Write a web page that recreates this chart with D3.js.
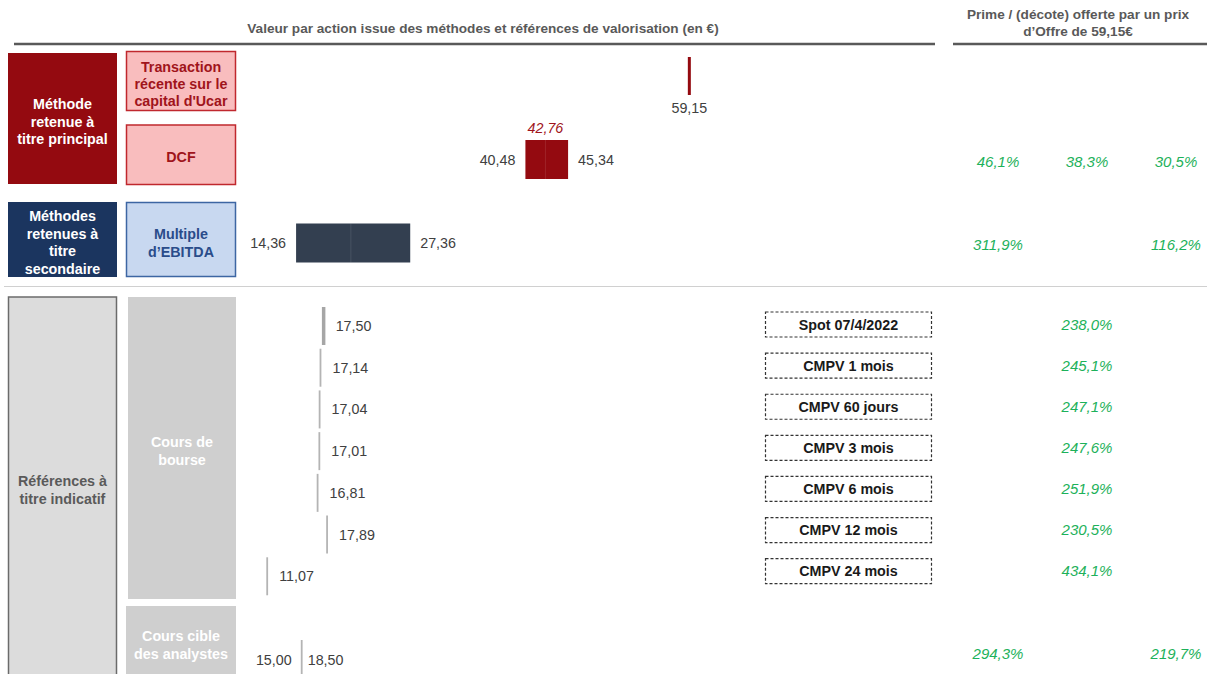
<!DOCTYPE html>
<html>
<head>
<meta charset="utf-8">
<script src="https://cdn.jsdelivr.net/npm/d3@7"></script>
<style>
  body { margin: 0; background: #fff; }
  svg { font-family: "Liberation Sans", Arial, sans-serif; }
</style>
</head>
<body>
<div id="chart"></div>
<script>
/* Data */
const offerPrice = 59.15;

const methodLabels = ["Transaction récente sur le capital d'Ucar", "DCF", "Multiple d’EBITDA"];
const methodLow = [59.15, 40.48, 14.36];
const methodMid = [null, 42.76, 20.6];
const methodHigh = [59.15, 45.34, 27.36];
const methodLowText = [null, "40,48", "14,36"];
const methodMidText = ["59,15", "42,76", null];
const methodHighText = [null, "45,34", "27,36"];
const methodPremium = [["", "", ""], ["46,1%", "38,3%", "30,5%"], ["311,9%", "", "116,2%"]];

const bourseLabels = ["Spot 07/4/2022", "CMPV 1 mois", "CMPV 60 jours", "CMPV 3 mois", "CMPV 6 mois", "CMPV 12 mois", "CMPV 24 mois"];
const bourseValues = [17.50, 17.14, 17.04, 17.01, 16.81, 17.89, 11.07];
const bourseText = ["17,50", "17,14", "17,04", "17,01", "16,81", "17,89", "11,07"];
const boursePremium = ["238,0%", "245,1%", "247,1%", "247,6%", "251,9%", "230,5%", "434,1%"];

const analystLow = 15.00;
const analystHigh = 18.50;
const analystText = ["15,00", "18,50"];
const analystPremium = ["294,3%", "", "219,7%"];

/* Layout */
const W = 1207, H = 674;
const DARKRED = "#940A10", PINK = "#F9BDBE", PINKSTROKE = "#C0282E";
const NAVY = "#1B355F", LIGHTBLUE = "#C8D8F0", BLUESTROKE = "#3D66A3";
const SLATE = "#333F50", GREEN = "#1DB15A", LABEL = "#404040";
const NUM = "14.3px", PCT = "15px", BOX = "14.3px";

const svg = d3.select("#chart").append("svg")
  .attr("width", W).attr("height", H);

/* Scales */
const x = d3.scaleLinear().domain([0, 60]).range([170, 170 + 60 * 8.78]);
const yMethod = d3.scalePoint().domain(methodLabels).range([76, 243]);
const yBourse = d3.scaleBand().domain(bourseLabels).range([305, 597]);
const xPremium = d3.scalePoint().domain([0, 1, 2]).range([998, 1176]);

/* Headers */
svg.append("text")
  .attr("x", 483).attr("y", 28).attr("dy", "0.35em")
  .attr("text-anchor", "middle")
  .style("font-size", "13.6px").style("font-weight", "bold").style("fill", "#595959")
  .text("Valeur par action issue des méthodes et références de valorisation (en €)");

svg.append("line").attr("x1", 14).attr("x2", 935).attr("y1", 44).attr("y2", 44)
  .style("stroke", "#595959").style("stroke-width", 2.5);

const hdr = svg.append("text")
  .attr("text-anchor", "middle")
  .style("font-size", "13.6px").style("font-weight", "bold").style("fill", "#595959");
hdr.append("tspan").attr("x", 1078).attr("y", 19).text("Prime / (décote) offerte par un prix");
hdr.append("tspan").attr("x", 1078).attr("y", 36).text("d’Offre de 59,15€");

svg.append("line").attr("x1", 953).attr("x2", 1207).attr("y1", 44).attr("y2", 44)
  .style("stroke", "#595959").style("stroke-width", 2.5);

svg.append("line").attr("x1", 4).attr("x2", 1207).attr("y1", 286.5).attr("y2", 286.5)
  .style("stroke", "#d0d0d0").style("stroke-width", 1.2);

/* Left boxes */
function box(x0, y0, w, h, fill, stroke, lines, color, ly, lh) {
  svg.append("rect")
    .attr("x", x0).attr("y", y0).attr("width", w).attr("height", h)
    .style("fill", fill)
    .style("stroke", stroke || "none")
    .style("stroke-width", stroke ? 1.5 : 0);
  const t = svg.append("text")
    .attr("text-anchor", "middle")
    .style("font-size", BOX).style("font-weight", "bold").style("fill", color);
  lines.forEach((l, i) => {
    t.append("tspan").attr("x", x0 + w / 2).attr("y", ly + i * lh).attr("dy", "0.35em").text(l);
  });
}

box(8, 53, 109, 131, DARKRED, null, ["Méthode", "retenue à", "titre principal"], "#fff", 104, 17.5);
box(126.5, 51.5, 109, 59, PINK, PINKSTROKE, ["Transaction", "récente sur le", "capital d'Ucar"], "#A0141B", 67, 17);
box(126.5, 125, 109, 59.5, PINK, PINKSTROKE, ["DCF"], "#A0141B", 157, 17);
box(8, 202, 109, 75, NAVY, null, ["Méthodes", "retenues à", "titre", "secondaire"], "#fff", 216, 17.7);
box(126.5, 202.5, 109, 74, LIGHTBLUE, BLUESTROKE, ["Multiple", "d’EBITDA"], "#2A4C8A", 234, 17.5);
box(8.5, 297, 108, 390, "#DCDCDC", "#6b6b6b", ["Références à", "titre indicatif"], "#5a5a5a", 481, 18);
box(128, 297, 108, 302, "#CFCFCF", null, ["Cours de", "bourse"], "#fff", 442, 18);
box(126, 606, 110, 80, "#CFCFCF", null, ["Cours cible", "des analystes"], "#fff", 636, 18);

/* Main methods */
const methods = methodLabels.map((name, i) => ({
  name, low: methodLow[i], mid: methodMid[i], high: methodHigh[i],
  lowText: methodLowText[i], midText: methodMidText[i], highText: methodHighText[i],
  premium: methodPremium[i]
}));
const barH = 39;
const colors = [DARKRED, DARKRED, SLATE];

const g = svg.append("g").attr("class", "methods");

methods.forEach((d, i) => {
  const yc = yMethod(d.name);
  if (d.low === d.high) {
    g.append("rect")
      .attr("x", x(d.low) - 1.5).attr("y", yc - 19).attr("width", 3).attr("height", 38)
      .style("fill", colors[i]);
    g.append("text").attr("x", x(d.low)).attr("y", yc + 32).attr("dy", "0.35em")
      .attr("text-anchor", "middle").style("font-size", NUM).style("fill", LABEL)
      .text(d.midText);
  } else {
    g.append("rect")
      .attr("x", x(d.low)).attr("y", yc - barH / 2)
      .attr("width", x(d.high) - x(d.low)).attr("height", barH)
      .style("fill", colors[i]);
    g.append("line")
      .attr("x1", x(d.mid)).attr("x2", x(d.mid))
      .attr("y1", yc - barH / 2).attr("y2", yc + barH / 2)
      .style("stroke", "#ffffff").style("stroke-opacity", 0.1).style("stroke-width", 1);
    g.append("text").attr("x", x(d.low) - 10).attr("y", yc).attr("dy", "0.35em")
      .attr("text-anchor", "end").style("font-size", NUM).style("fill", LABEL)
      .text(d.lowText);
    g.append("text").attr("x", x(d.high) + 10).attr("y", yc).attr("dy", "0.35em")
      .attr("text-anchor", "start").style("font-size", NUM).style("fill", LABEL)
      .text(d.highText);
    if (d.midText) {
      g.append("text").attr("x", x(d.mid)).attr("y", yc - 32).attr("dy", "0.35em")
        .attr("text-anchor", "middle")
        .style("font-size", NUM).style("font-style", "italic").style("fill", "#A0141B")
        .text(d.midText);
    }
  }
  d.premium.forEach((p, j) => {
    g.append("text").attr("x", xPremium(j)).attr("y", yc + 2).attr("dy", "0.35em")
      .attr("text-anchor", "middle")
      .style("font-size", PCT).style("font-style", "italic").style("fill", GREEN)
      .text(p);
  });
});

/* Cours de bourse */
const bourse = bourseLabels.map((name, i) => ({
  name, value: bourseValues[i], text: bourseText[i], premium: boursePremium[i]
}));

const rows = svg.append("g").attr("class", "bourse")
  .selectAll("g").data(bourse).enter().append("g");

rows.append("line")
  .attr("x1", d => x(d.value)).attr("x2", d => x(d.value))
  .attr("y1", d => yBourse(d.name) + 2).attr("y2", d => yBourse(d.name) + 40)
  .style("stroke", (d, i) => i === 0 ? "#a6a6a6" : "#b4b4b4")
  .style("stroke-width", (d, i) => i === 0 ? 3.5 : 1.8);

rows.append("text")
  .attr("x", d => x(d.value) + 12).attr("y", d => yBourse(d.name) + 21).attr("dy", "0.35em")
  .style("font-size", NUM).style("fill", LABEL)
  .text(d => d.text);

rows.append("rect")
  .attr("x", 765.5).attr("width", 166).attr("height", 25)
  .attr("y", (d, i) => yBourse(d.name) + 7 - (i === 0 ? 0 : i * 0.6))
  .style("fill", "none").style("stroke", "#333").style("stroke-width", 1.2)
  .style("stroke-dasharray", "3,2");

rows.append("text")
  .attr("x", 848.5).attr("y", (d, i) => yBourse(d.name) + 19.5 - i * 0.6).attr("dy", "0.35em")
  .attr("text-anchor", "middle")
  .style("font-size", BOX).style("font-weight", "bold").style("fill", "#1a1a1a")
  .text(d => d.name);

rows.append("text")
  .attr("x", xPremium(1)).attr("y", (d, i) => yBourse(d.name) + 19.5 - i * 0.6).attr("dy", "0.35em")
  .attr("text-anchor", "middle")
  .style("font-size", PCT).style("font-style", "italic").style("fill", GREEN)
  .text(d => d.premium);

/* Cours cible des analystes */
const ya = 657;
svg.append("line")
  .attr("x1", x(analystLow)).attr("x2", x(analystLow))
  .attr("y1", ya - 17).attr("y2", H)
  .style("stroke", "#b4b4b4").style("stroke-width", 1.8);
svg.append("text").attr("x", x(analystLow) - 10).attr("y", ya + 3).attr("dy", "0.35em")
  .attr("text-anchor", "end").style("font-size", NUM).style("fill", LABEL)
  .text(analystText[0]);
svg.append("text").attr("x", x(analystLow) + 6).attr("y", ya + 3).attr("dy", "0.35em")
  .attr("text-anchor", "start").style("font-size", NUM).style("fill", LABEL)
  .text(analystText[1]);
analystPremium.forEach((p, j) => {
  svg.append("text").attr("x", xPremium(j)).attr("y", ya - 3).attr("dy", "0.35em")
    .attr("text-anchor", "middle")
    .style("font-size", PCT).style("font-style", "italic").style("fill", GREEN)
    .text(p);
});
</script>
</body>
</html>
